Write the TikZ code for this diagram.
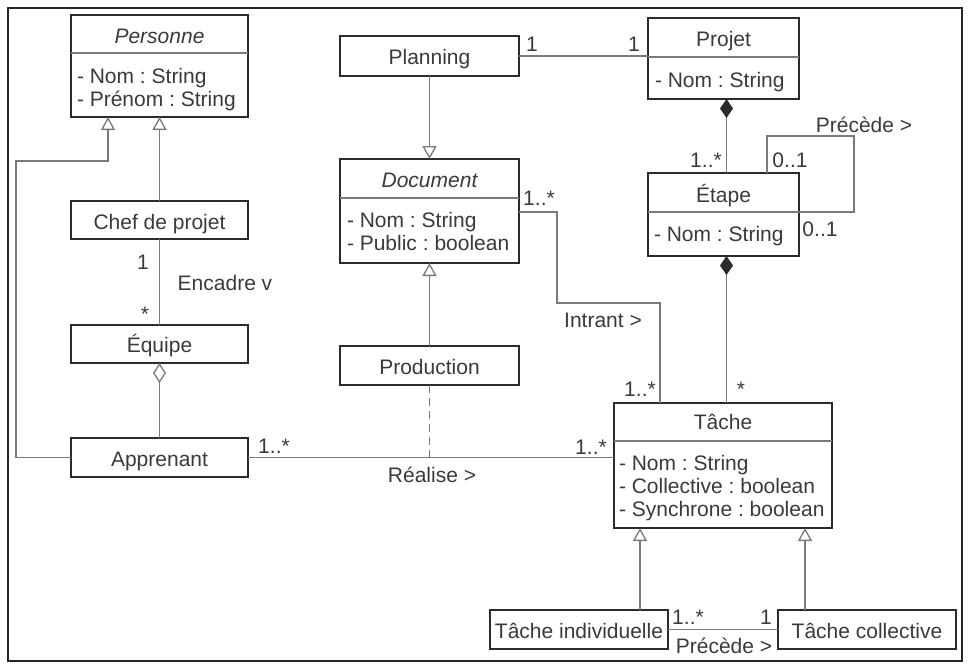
\documentclass[tikz,border=0pt]{standalone}
\usepackage{fontspec}
\setmainfont{Liberation Sans}
\usetikzlibrary{arrows.meta}
\definecolor{boxc}{HTML}{2B2B2B}
\definecolor{linec}{HTML}{7A7A7A}
\definecolor{txtc}{HTML}{3A3A3A}
\frenchspacing
\begin{document}
\begin{tikzpicture}[x=1pt,y=-1pt,
 cls/.style={draw=boxc, line width=2pt, rectangle, inner sep=0pt, outer sep=0pt, fill=white},
 divl/.style={draw=linec, line width=1.2pt},
 txt/.style={inner sep=0pt, outer sep=0pt, text=txtc, font=\fontsize{21}{23}\selectfont},
 conn/.style={draw=linec, line width=1.3pt},
 gen/.style={conn, -{Triangle[open, length=13pt, width=14pt, fill=white]}},
 comp/.style={conn, -{Diamond[length=19pt, width=13pt, color=boxc]}},
 aggr/.style={conn, -{Diamond[open, length=20pt, width=13pt, fill=white]}},
 dashline/.style={conn, dash pattern=on 8pt off 5pt},
]
\useasboundingbox (0,0) rectangle (969,670);
\draw[line width=1.5pt, draw=black!85] (8,8) rectangle (962,661);

% ---- boxes ----
\node[cls, minimum width=177pt, minimum height=102pt] (personne) at (159.5,66) {};
\draw[divl] (71,53) -- (248,53);
\node[txt, anchor=base, font=\fontsize{21}{23}\selectfont\itshape] (personne-t) at (159.5,43) {Personne};
\node[txt, anchor=base west] (personne-a1) at (77,83) {- Nom : String};
\node[txt, anchor=base west] (personne-a2) at (77,106) {- Prénom : String};

\node[cls, minimum width=177pt, minimum height=38pt] (chef) at (159.5,220) {};
\node[txt, anchor=base] (chef-t) at (159.5,229) {Chef de projet};

\node[cls, minimum width=177pt, minimum height=38pt] (equipe) at (159.5,344) {};
\node[txt, anchor=base] (equipe-t) at (159.5,352) {Équipe};

\node[cls, minimum width=177pt, minimum height=39pt] (apprenant) at (159.5,457.5) {};
\node[txt, anchor=base] (apprenant-t) at (159.5,466) {Apprenant};

\node[cls, minimum width=179pt, minimum height=40pt] (planning) at (429.5,56) {};
\node[txt, anchor=base] (planning-t) at (429.5,64) {Planning};

\node[cls, minimum width=179pt, minimum height=104pt] (document) at (429.5,211) {};
\draw[divl] (340,198) -- (519,198);
\node[txt, anchor=base, font=\fontsize{21}{23}\selectfont\itshape] (document-t) at (429.5,187) {Document};
\node[txt, anchor=base west] (document-a1) at (347,227) {- Nom : String};
\node[txt, anchor=base west] (document-a2) at (347,250) {- Public : boolean};

\node[cls, minimum width=179pt, minimum height=39pt] (production) at (429.5,365.5) {};
\node[txt, anchor=base] (production-t) at (429.5,374) {Production};

\node[cls, minimum width=151pt, minimum height=81pt] (projet) at (723.5,58.5) {};
\draw[divl] (648,57) -- (799,57);
\node[txt, anchor=base] (projet-t) at (723.5,46) {Projet};
\node[txt, anchor=base west] (projet-a1) at (655,87) {- Nom : String};

\node[cls, minimum width=151pt, minimum height=83pt] (etape) at (723.5,214.5) {};
\draw[divl] (648,212) -- (799,212);
\node[txt, anchor=base] (etape-t) at (723.5,202) {Étape};
\node[txt, anchor=base west] (etape-a1) at (654,241) {- Nom : String};

\node[cls, minimum width=218pt, minimum height=125pt] (tache) at (723,465.5) {};
\draw[divl] (614,441) -- (832,441);
\node[txt, anchor=base] (tache-t) at (723,429) {Tâche};
\node[txt, anchor=base west] (tache-a1) at (619,470) {- Nom : String};
\node[txt, anchor=base west] (tache-a2) at (619,493) {- Collective : boolean};
\node[txt, anchor=base west] (tache-a3) at (619,516) {- Synchrone : boolean};

\node[cls, minimum width=178pt, minimum height=39pt] (tind) at (579,629.5) {};
\node[txt, anchor=base] (tind-t) at (579,638) {Tâche individuelle};

\node[cls, minimum width=178pt, minimum height=39pt] (tcol) at (867,629.5) {};
\node[txt, anchor=base] (tcol-t) at (867,638) {Tâche collective};

% ---- connectors ----
\coordinate (gl1) at (16,161);
\coordinate (ga) at (557,303);
\coordinate (loopa) at (854,136);

\draw[gen] (chef.north) -- (personne.south);
\draw[gen] (apprenant.west) -| (gl1) -| ([xshift=-51.5pt]personne.south);
\draw[conn] (chef.south) -- (equipe.north);
\draw[aggr] (apprenant.north) -- (equipe.south);
\draw[conn] (apprenant.east) -- (apprenant.east -| tache.west);
\draw[dashline] (production.south) -- (production.south |- apprenant.east);
\draw[gen] (production.north) -- (document.south);
\draw[gen] (planning.south) -- (document.north);
\draw[conn] (planning.east) -- (planning.east -| projet.west);
\draw[comp] ([xshift=3pt]etape.north) -- ([xshift=3pt]projet.south);
\draw[conn] ([xshift=43.5pt]etape.north) |- (loopa) |- ([yshift=2.5pt]etape.east);
\draw[comp] ([xshift=3pt]etape.south |- tache.north) -- ([xshift=3pt]etape.south);
\draw[conn] ([yshift=-1pt]document.east) -| (ga) -| ([xshift=-63pt]tache.north);
\draw[gen] ([xshift=61pt]tind.north) -- ([xshift=-83pt]tache.south);
\draw[gen] ([xshift=-62pt]tcol.north) -- ([xshift=82pt]tache.south);
\draw[conn] (tind.east) -- (tcol.west);

% ---- labels ----
\node[txt] (l-enc1) at (143,262) {1};
\node[txt] (l-enc2) at (145,314) {*};
\node[txt] (l-enc) at (225,283) {Encadre v};
\node[txt] (l-app) at (274,446) {1..*};
\node[txt] (l-tac1) at (591,447) {1..*};
\node[txt] (l-real) at (432,475) {Réalise >};
\node[txt] (l-pl1) at (532,44) {1};
\node[txt] (l-pl2) at (634,44) {1};
\node[txt] (l-et1) at (706,160) {1..*};
\node[txt] (l-et2) at (790,160) {0..1};
\node[txt] (l-prec) at (864,125) {Précède >};
\node[txt] (l-et3) at (820,229) {0..1};
\node[txt] (l-et4) at (741,389) {*};
\node[txt] (l-doc) at (539,198) {1..*};
\node[txt] (l-intr) at (603,320) {Intrant >};
\node[txt] (l-tac2) at (640,389) {1..*};
\node[txt] (l-ti) at (688,617) {1..*};
\node[txt] (l-tc) at (766,617) {1};
\node[txt] (l-prec2) at (724,646) {Précède >};
\end{tikzpicture}
\end{document}
